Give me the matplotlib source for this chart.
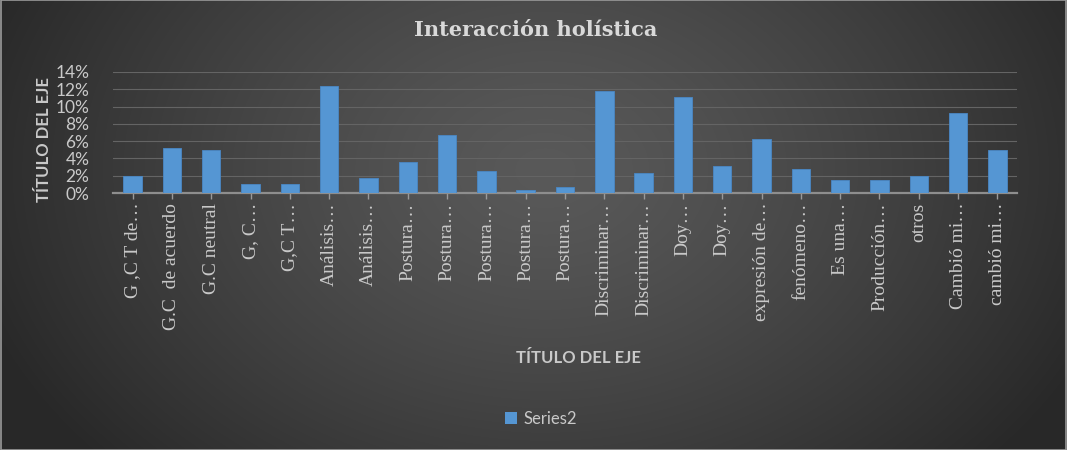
import numpy as np
import matplotlib
matplotlib.use("Agg")
import matplotlib.pyplot as plt
from matplotlib.patches import Rectangle
from matplotlib.ticker import PercentFormatter

categories = ["G ,C T de…", "G.C  de acuerdo", "G.C neutral", "G, C…", "G,C T…",
              "Análisis…", "Análisis…", "Postura…", "Postura…", "Postura…",
              "Postura…", "Postura…", "Discriminar…", "Discriminar…", "Doy…",
              "Doy…", "expresión de…", "fenómeno…", "Es una…", "Producción…",
              "otros", "Cambió mi…", "cambió mi…"]
series2 = [0.020, 0.052, 0.050, 0.010, 0.010,
           0.124, 0.017, 0.036, 0.067, 0.026,
           0.004, 0.007, 0.118, 0.023, 0.111,
           0.031, 0.063, 0.028, 0.015, 0.015,
           0.020, 0.092, 0.050]
yticks = [0, 0.02, 0.04, 0.06, 0.08, 0.10, 0.12, 0.14]

W, H = 1080, 450
fig = plt.figure(figsize=(10.8, 4.5), dpi=100, facecolor="white")

# dark radial background (chart area ends a bit before the right edge)
bg_w = 1067
bg = fig.add_axes([0, 0, bg_w / W, 1])
bg.set_axis_off()
yy, xx = np.mgrid[0:H, 0:bg_w]
r = np.sqrt(((xx - 545) / 600.0) ** 2 + ((yy - 170) / 440.0) ** 2)
r = np.clip(r, 0, 1)
val = (0x59 - (0x59 - 0x28) * r ** 1.3) / 255.0
img = np.dstack([val, val, val])
bg.imshow(img, extent=[0, bg_w, H, 0], aspect="auto", interpolation="bilinear")
bg.set_xlim(0, bg_w)
bg.set_ylim(H, 0)
bg.add_patch(Rectangle((0.5, 0), bg_w - 1.5, H, fill=False, ec="#9a9a9a", lw=1.2))

ax = fig.add_axes([113 / W, 1 - 193 / H, (1017 - 113) / W, (193 - 72) / H])
ax.set_facecolor("none")
x = np.arange(len(categories))
ax.bar(x, series2, width=0.47, color="#5596d3", edgecolor="#4a87c4", lw=0.6, zorder=3)
ax.set_xlim(-0.5, len(categories) - 0.5)
ax.set_ylim(0, 0.14)
ax.set_yticks(yticks)
ax.yaxis.set_major_formatter(PercentFormatter(1.0, decimals=0))
ax.grid(axis="y", color="#646464", lw=0.8, zorder=0)
for s in ["top", "right", "left"]:
    ax.spines[s].set_visible(False)
ax.spines["bottom"].set_color("#8e8e8e")
ax.spines["bottom"].set_linewidth(1.6)
ax.tick_params(axis="y", length=0, pad=17, labelcolor="#c9c9c9", labelsize=12.5)
for t in ax.get_yticklabels():
    t.set_family("Lato")
ax.set_xticks(x)
ax.set_xticklabels(categories, rotation=90, family="Liberation Serif",
                   fontsize=14, color="#c9c9c9")
ax.tick_params(axis="x", length=4, width=1, color="#9a9a9a", pad=3)

fig.text(44 / W, 1 - 140 / H, "TÍTULO DEL EJE", rotation=90, ha="center", va="center",
         family="Lato", fontweight="bold", fontsize=12, color="#c9c9c9")
fig.text(578 / W, 1 - 358 / H, "TÍTULO DEL EJE", ha="center", va="center",
         family="Lato", fontweight="bold", fontsize=12, color="#c9c9c9")
fig.text(536 / W, 1 - 30 / H, "Interacción holística", ha="center", va="center",
         family="DejaVu Serif", fontweight="bold", fontsize=15, color="#d9d9d9")

leg = fig.legend([Rectangle((0, 0), 1, 1, fc="#5596d3")], ["Series2"],
                 loc="center", bbox_to_anchor=(541 / W, 1 - 419 / H), frameon=False,
                 handlelength=0.7, handleheight=0.7, handletextpad=0.4,
                 prop={"family": "Lato", "size": 12})
for t in leg.get_texts():
    t.set_color("#c9c9c9")

fig.savefig("out.png", dpi=100, facecolor="white")
